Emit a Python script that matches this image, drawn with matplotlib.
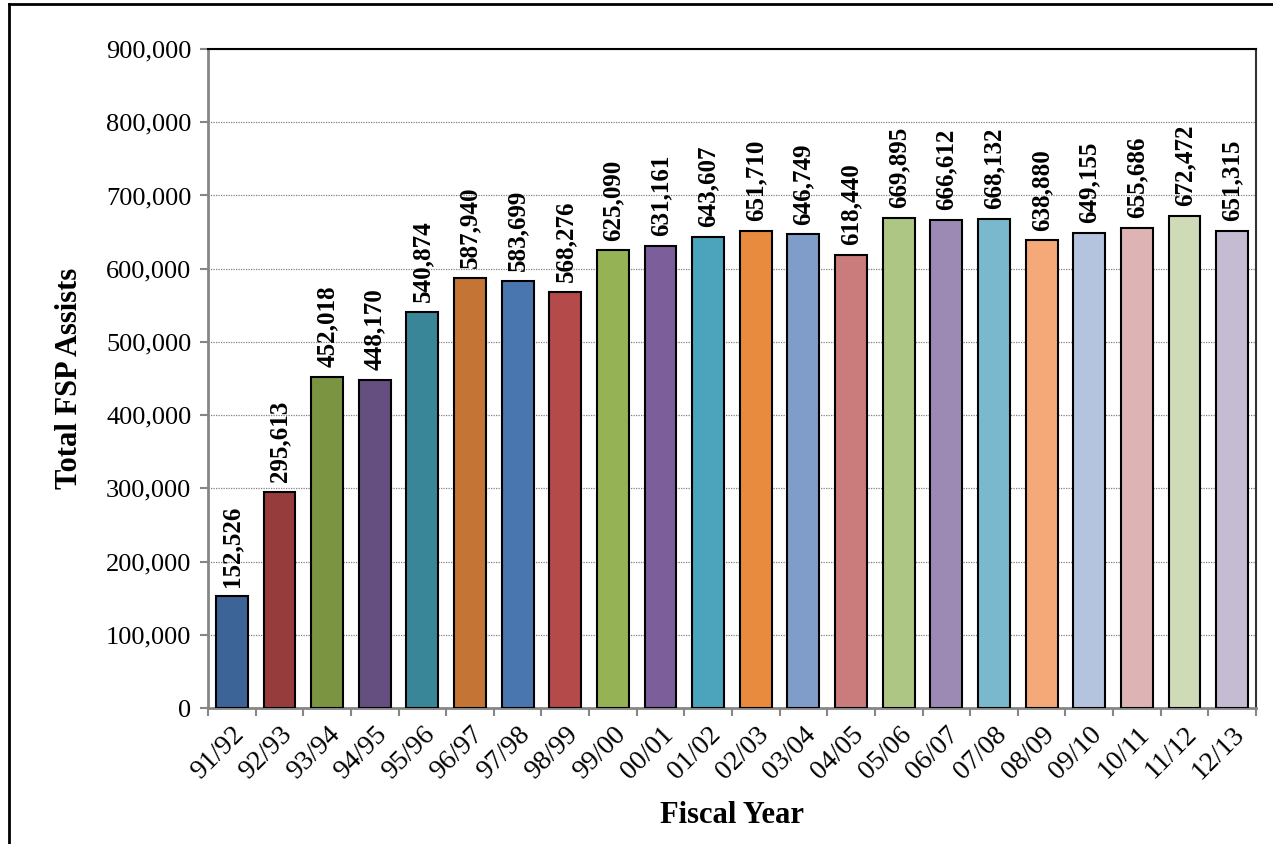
import matplotlib.pyplot as plt
from matplotlib.lines import Line2D
from matplotlib.ticker import FuncFormatter, MultipleLocator

years = ['91/92', '92/93', '93/94', '94/95', '95/96', '96/97', '97/98', '98/99',
         '99/00', '00/01', '01/02', '02/03', '03/04', '04/05', '05/06', '06/07',
         '07/08', '08/09', '09/10', '10/11', '11/12', '12/13']
assists = [152526, 295613, 452018, 448170, 540874, 587940, 583699, 568276,
           625090, 631161, 643607, 651710, 646749, 618440, 669895, 666612,
           668132, 638880, 649155, 655686, 672472, 651315]
bar_colors = ['#3c6496', '#963c3c', '#7a9442', '#644f80', '#3a8699', '#c47535',
              '#4a76af', '#b44a4a', '#95b254', '#7b5e9a', '#4ba4bc', '#e88b3e',
              '#7f9dc8', '#ca7b7b', '#aec683', '#9c8ab4', '#7ab9cd', '#f6a978',
              '#b4c4de', '#ddb4b3', '#cedbb6', '#c5bbd2']

plt.rcParams['font.family'] = ['Liberation Serif', 'DejaVu Serif']

fig = plt.figure(figsize=(12.73, 8.44), dpi=100)
ax = fig.add_axes([0.1634, 0.1611, 0.8232, 0.7808])

x = list(range(len(years)))
bars = ax.bar(x, assists, width=0.67, color=bar_colors, edgecolor='black',
              linewidth=1.5, zorder=3)

# value labels above each bar
for xi, val in zip(x, assists):
    ax.annotate(f'{val:,}', (xi, val), xytext=(0, 7), textcoords='offset points',
                rotation=90, ha='center', va='bottom', fontsize=18,
                fontweight='bold')

ax.set_xlim(-0.5, len(years) - 0.5)
ax.set_ylim(0, 900000)
ax.yaxis.set_major_locator(MultipleLocator(100000))
ax.yaxis.set_major_formatter(FuncFormatter(lambda v, p: f'{int(v):,}'))

ax.set_xticks([i - 0.5 for i in range(len(years) + 1)], minor=False)
ax.set_xticklabels([])
ax.set_xticks(x, minor=True)
ax.set_xticklabels(years, minor=True, rotation=45, ha='right', va='top',
                   rotation_mode='anchor', fontsize=20)
ax.tick_params(axis='x', which='minor', length=0, pad=10)
ax.tick_params(axis='x', which='major', length=6, width=1.5, color='#868686',
               direction='out')
ax.tick_params(axis='y', length=6, width=1.5, color='#868686', direction='out',
               labelsize=19, pad=6)

ax.grid(axis='y', linestyle=(0, (1, 1)), color='#808080', linewidth=0.9, zorder=0)

ax.spines['left'].set_color('#868686')
ax.spines['bottom'].set_color('#868686')
ax.spines['left'].set_linewidth(2)
ax.spines['bottom'].set_linewidth(2)
ax.spines['top'].set_color('black')
ax.spines['right'].set_color('#333333')
ax.spines['top'].set_linewidth(1.5)
ax.spines['right'].set_linewidth(1.5)

ax.set_ylabel('Total FSP Assists', fontsize=22, fontweight='bold', labelpad=16)
ax.set_xlabel('Fiscal Year', fontsize=22, fontweight='bold', labelpad=12)

# outer chart frame
fig.add_artist(Line2D([9 / 1273, 9 / 1273], [0, 1 - 4 / 844], color='black',
                      linewidth=2, transform=fig.transFigure))
fig.add_artist(Line2D([9 / 1273, 1], [1 - 4 / 844, 1 - 4 / 844], color='black',
                      linewidth=2, transform=fig.transFigure))

fig.savefig('out.png', dpi=100)
